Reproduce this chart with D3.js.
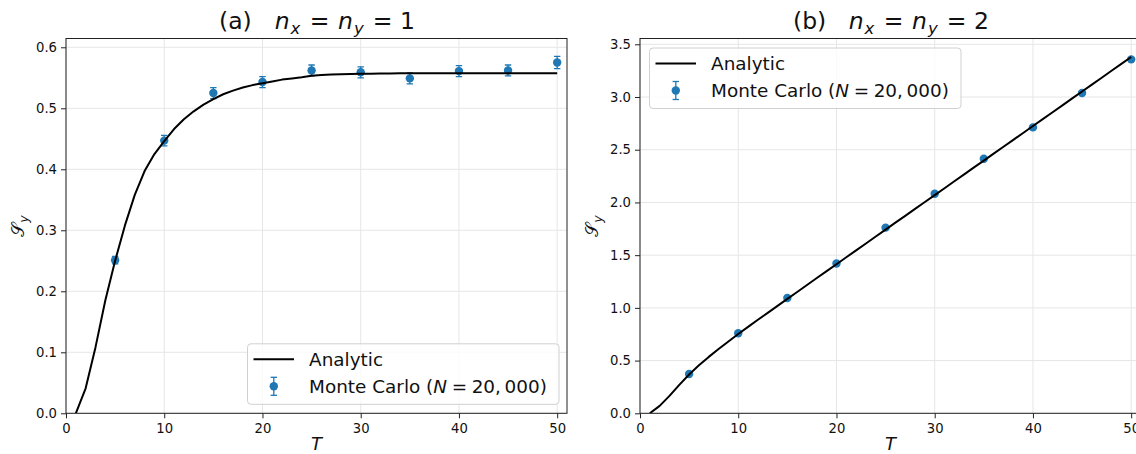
<!DOCTYPE html>
<html>
<head>
<meta charset="utf-8">
<script src="https://cdn.jsdelivr.net/npm/d3@7"></script>
<style>
  body { margin: 0; background: #fff; }
  svg { display: block; }
  text { font-family: "DejaVu Sans", sans-serif; }
</style>
</head>
<body>
<svg id="fig" width="1136" height="454"></svg>
<script>
// ---- data ----
const mcT = [5, 10, 15, 20, 25, 30, 35, 40, 45, 50];

// (a) n_x = n_y = 1
const mcA  = [0.251, 0.447, 0.525, 0.543, 0.562, 0.559, 0.549, 0.561, 0.562, 0.575];
const errA = [0.006, 0.0085, 0.009, 0.009, 0.009, 0.009, 0.009, 0.009, 0.009, 0.010];

// (b) n_x = n_y = 2
const mcB  = [0.373, 0.759, 1.094, 1.421, 1.761, 2.082, 2.415, 2.712, 3.038, 3.357];
const errB = [0.010, 0.011, 0.011, 0.012, 0.012, 0.012, 0.013, 0.013, 0.013, 0.014];

const curveT = [1, 2, 3, 4, 5, 6, 7, 8, 9, 10,
                11, 12, 13, 14, 15, 16, 17, 18, 19, 20,
                21, 22, 23, 24, 25, 26, 27, 28, 29, 30,
                31, 32, 33, 34, 35, 36, 37, 38, 39, 40,
                41, 42, 43, 44, 45, 46, 47, 48, 49, 50];

const analyticA = [0.000, 0.041, 0.108, 0.185, 0.250, 0.308, 0.358, 0.397, 0.425, 0.446,
                   0.466, 0.482, 0.495, 0.506, 0.515, 0.523, 0.529, 0.534, 0.538, 0.541,
                   0.544, 0.547, 0.549, 0.551, 0.5535, 0.5545, 0.5552, 0.5558, 0.5562, 0.5565,
                   0.5568, 0.5570, 0.5572, 0.5573, 0.5574, 0.5575, 0.5575, 0.5575, 0.5575, 0.5575,
                   0.5575, 0.5575, 0.5575, 0.5575, 0.5575, 0.5575, 0.5575, 0.5575, 0.5575, 0.5575];

const analyticB = [0.000, 0.070, 0.165, 0.270, 0.368, 0.455, 0.535, 0.610, 0.681, 0.752,
                   0.820, 0.887, 0.953, 1.019, 1.085, 1.151, 1.217, 1.283, 1.348, 1.414,
                   1.480, 1.545, 1.611, 1.677, 1.742, 1.808, 1.873, 1.939, 2.004, 2.070,
                   2.135, 2.201, 2.266, 2.332, 2.397, 2.463, 2.528, 2.594, 2.659, 2.725,
                   2.790, 2.856, 2.921, 2.987, 3.052, 3.118, 3.183, 3.249, 3.314, 3.380];

const xTicks  = [0, 10, 20, 30, 40, 50];
const yTicksA = [0.0, 0.1, 0.2, 0.3, 0.4, 0.5, 0.6];
const yTicksB = [0.0, 0.5, 1.0, 1.5, 2.0, 2.5, 3.0, 3.5];

const titleA = ["(a)", "1"];
const titleB = ["(b)", "2"];
const legendLabels = ["Analytic", "Monte Carlo ("];

// ---- drawing ----
const svg = d3.select("#fig");
const BLUE = "#1f77b4";

function panel(opt) {
  const { id, left, right, top, bottom, yMax, yTicks, mc, err, analytic, title, legendPos } = opt;
  const x = d3.scaleLinear().domain([0, 51]).range([left, right]);
  const y = d3.scaleLinear().domain([0, yMax]).range([bottom, top]);
  const g = svg.append("g");

  g.append("clipPath").attr("id", "clip-" + id)
    .append("rect").attr("x", left).attr("y", top)
    .attr("width", right - left).attr("height", bottom - top);

  // grid
  const grid = g.append("g").attr("stroke", "#e6e6e6").attr("stroke-width", 1);
  grid.selectAll("line.v").data(xTicks).join("line")
    .attr("x1", d => x(d)).attr("x2", d => x(d))
    .attr("y1", top).attr("y2", bottom);
  grid.selectAll("line.h").data(yTicks).join("line")
    .attr("x1", left).attr("x2", right)
    .attr("y1", d => y(d)).attr("y2", d => y(d));

  const plot = g.append("g").attr("clip-path", `url(#clip-${id})`);

  // Monte Carlo error bars and markers
  const pts = mcT.map((t, i) => ({ t, v: mc[i], e: err[i] }));
  const eb = plot.append("g").attr("stroke", BLUE).attr("stroke-width", 1.3);
  eb.selectAll("line.bar").data(pts).join("line")
    .attr("x1", d => x(d.t)).attr("x2", d => x(d.t))
    .attr("y1", d => y(d.v - d.e)).attr("y2", d => y(d.v + d.e));
  eb.selectAll("line.capLo").data(pts).join("line")
    .attr("x1", d => x(d.t) - 3.2).attr("x2", d => x(d.t) + 3.2)
    .attr("y1", d => y(d.v - d.e)).attr("y2", d => y(d.v - d.e));
  eb.selectAll("line.capHi").data(pts).join("line")
    .attr("x1", d => x(d.t) - 3.2).attr("x2", d => x(d.t) + 3.2)
    .attr("y1", d => y(d.v + d.e)).attr("y2", d => y(d.v + d.e));
  plot.append("g").selectAll("circle").data(pts).join("circle")
    .attr("cx", d => x(d.t)).attr("cy", d => y(d.v)).attr("r", 4.2)
    .attr("fill", BLUE);

  // analytic curve
  const line = d3.line().x(d => x(d[0])).y(d => y(d[1]));
  plot.append("path")
    .datum(curveT.map((t, i) => [t, analytic[i]]))
    .attr("d", line).attr("fill", "none")
    .attr("stroke", "#000").attr("stroke-width", 2).attr("stroke-linejoin", "round");

  // axes
  const xAxis = d3.axisBottom(x).tickValues(xTicks).tickSize(5).tickPadding(5)
    .tickFormat(d3.format("d"));
  const yAxis = d3.axisLeft(y).tickValues(yTicks).tickSize(5).tickPadding(4)
    .tickFormat(d3.format(".1f"));
  const gx = g.append("g").attr("transform", `translate(0,${bottom})`).call(xAxis);
  const gy = g.append("g").attr("transform", `translate(${left},0)`).call(yAxis);
  [gx, gy].forEach(a => {
    a.select(".domain").remove();
    a.selectAll("line").attr("stroke", "#222").attr("stroke-width", 1);
    a.selectAll("text").attr("font-size", 13.2).attr("fill", "#111")
      .attr("font-family", "DejaVu Sans");
  });

  // spines
  g.append("rect").attr("x", left).attr("y", top)
    .attr("width", right - left).attr("height", bottom - top)
    .attr("fill", "none").attr("stroke", "#222").attr("stroke-width", 1);

  // title:  (a)  n_x = n_y = 1
  const cx = (left + right) / 2;
  const tt = g.append("text").attr("y", 29).attr("font-size", 23.5).attr("fill", "#111");
  tt.append("tspan").attr("x", cx - 97.5).text(title[0]);
  tt.append("tspan").attr("x", cx - 41.8).attr("font-style", "italic").text("n");
  tt.append("tspan").attr("dy", 5).attr("dx", 1).attr("font-size", 16.5).attr("font-style", "italic").text("x");
  tt.append("tspan").attr("x", cx - 6.7).attr("dy", -5).text("=");
  tt.append("tspan").attr("x", cx + 21.5).attr("font-style", "italic").text("n");
  tt.append("tspan").attr("dy", 5).attr("dx", 1).attr("font-size", 16.5).attr("font-style", "italic").text("y");
  tt.append("tspan").attr("x", cx + 56.2).attr("dy", -5).text("=");
  tt.append("tspan").attr("x", cx + 83.5).text(title[1]);

  // axis labels
  g.append("text").attr("x", cx).attr("y", 449.5).attr("text-anchor", "middle")
    .attr("font-size", 18).attr("font-style", "italic").attr("fill", "#111").text("T");
  const yl = g.append("text")
    .attr("transform", `translate(${left - 42},${(top + bottom) / 2}) rotate(-90)`)
    .attr("text-anchor", "middle").attr("font-size", 18).attr("fill", "#111");
  yl.append("tspan").text("\u{1D4AE}");
  yl.append("tspan").attr("dy", 4).attr("font-size", 12.6).attr("font-style", "italic").text("y");

  // legend
  const lw = 311.5, lh = 60.5;
  const lx = legendPos === "lower right" ? right - 8 - lw : left + 9.5;
  const ly = legendPos === "lower right" ? bottom - 9 - lh : top + 9.5;
  const lg = g.append("g").attr("transform", `translate(${lx},${ly})`);
  lg.append("rect").attr("width", lw).attr("height", lh).attr("rx", 3.5)
    .attr("fill", "#fff").attr("fill-opacity", 0.8)
    .attr("stroke", "#d0d0d0").attr("stroke-width", 1);
  lg.append("line").attr("x1", 6).attr("x2", 46.5).attr("y1", 15.5).attr("y2", 15.5)
    .attr("stroke", "#000").attr("stroke-width", 2);
  lg.append("text").attr("x", 61.6).attr("y", 21.8).attr("font-size", 18.4).attr("fill", "#111")
    .text(legendLabels[0]);
  const lm = lg.append("g").attr("stroke", BLUE).attr("stroke-width", 1.3);
  lm.append("line").attr("x1", 26.3).attr("x2", 26.3).attr("y1", 33.5).attr("y2", 51.5);
  lm.append("line").attr("x1", 23.1).attr("x2", 29.5).attr("y1", 33.5).attr("y2", 33.5);
  lm.append("line").attr("x1", 23.1).attr("x2", 29.5).attr("y1", 51.5).attr("y2", 51.5);
  lg.append("circle").attr("cx", 26.3).attr("cy", 42.5).attr("r", 4.2).attr("fill", BLUE);
  const mt = lg.append("text").attr("x", 61.6).attr("y", 49.3).attr("font-size", 18.4).attr("fill", "#111");
  mt.append("tspan").text(legendLabels[1]);
  mt.append("tspan").attr("font-style", "italic").text("N");
  mt.append("tspan").text("\u2005=\u200520,\u2009000)");
}

panel({ id: "a", left: 66, right: 567, top: 38.5, bottom: 413.3, yMax: 0.6144,
        yTicks: yTicksA, mc: mcA, err: errA, analytic: analyticA,
        title: titleA, legendPos: "lower right" });
panel({ id: "b", left: 640, right: 1141, top: 38.5, bottom: 413.3, yMax: 3.555,
        yTicks: yTicksB, mc: mcB, err: errB, analytic: analyticB,
        title: titleB, legendPos: "upper left" });
</script>
</body>
</html>
